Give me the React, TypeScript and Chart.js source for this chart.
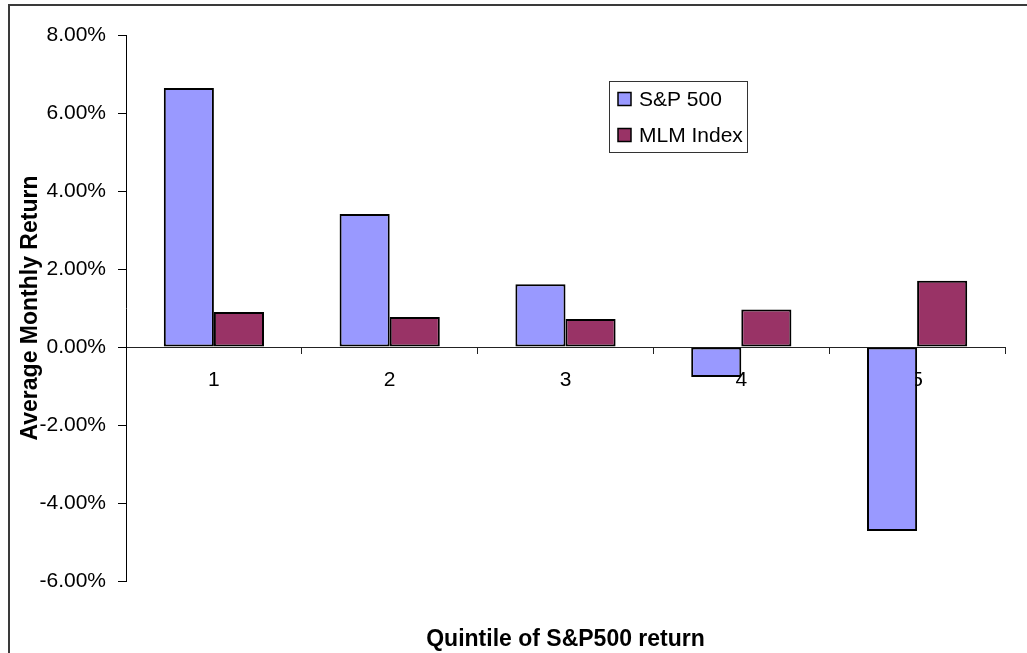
import React, { useEffect, useRef } from "react";
import { Chart, registerables } from "chart.js";

Chart.register(...registerables);

const categories = ["1", "2", "3", "4", "5"];
const sp500Values = [6.64, 3.41, 1.61, -0.77, -4.72];
const mlmValues = [0.9, 0.77, 0.72, 0.96, 1.7];
const seriesNames = ["S&P 500", "MLM Index"];
const yTickMin = -6;
const yTickMax = 8;
const yTickStep = 2;
const xTitle = "Quintile of S&P500 return";
const yTitle = "Average Monthly Return";

const FONT = "'Liberation Sans', Arial, sans-serif";
const BLUE = "#9999FF";
const RED = "#993366";

const decorPlugin = {
  id: "decor",
  beforeDraw(chart: any) {
    const ctx = chart.ctx;
    ctx.save();
    ctx.fillStyle = "#ffffff";
    ctx.fillRect(0, 0, chart.width, chart.height);
    ctx.strokeStyle = "#3a3a3a";
    ctx.lineWidth = 2;
    ctx.strokeRect(9, 5, 3000, 3000);
    ctx.restore();
  },
  afterDraw(chart: any) {
    const ctx = chart.ctx;
    const area = chart.chartArea;
    ctx.save();
    ctx.fillStyle = "#000";
    ctx.font = `bold 23px ${FONT}`;
    ctx.textAlign = "center";
    ctx.textBaseline = "middle";
    ctx.fillText(xTitle, (area.left + area.right) / 2, 640);
    const lx = 609.5, ly = 81.5, lw = 138, lh = 71;
    ctx.fillStyle = "#fff";
    ctx.fillRect(lx, ly, lw, lh);
    ctx.strokeStyle = "#333";
    ctx.lineWidth = 1;
    ctx.strokeRect(lx, ly, lw, lh);
    const colors = [BLUE, RED];
    const rows = [99, 135];
    ctx.font = `21px ${FONT}`;
    ctx.textAlign = "left";
    for (let i = 0; i < seriesNames.length; i++) {
      const cy = rows[i];
      ctx.fillStyle = colors[i];
      ctx.fillRect(618, cy - 6.5, 13, 13);
      ctx.strokeStyle = "#000";
      ctx.lineWidth = 1.5;
      ctx.strokeRect(618, cy - 6.5, 13, 13);
      ctx.fillStyle = "#000";
      ctx.fillText(seriesNames[i], 639, cy + 1);
    }
    ctx.restore();
  },
};

export default function App() {
  const ref = useRef<HTMLCanvasElement | null>(null);
  useEffect(() => {
    if (!ref.current) return;
    const chart = new Chart(ref.current, {
      type: "bar",
      data: {
        labels: categories,
        datasets: [
          {
            label: seriesNames[0],
            data: sp500Values,
            backgroundColor: BLUE,
            borderColor: "#000",
            borderWidth: 2,
            borderSkipped: false,
            categoryPercentage: 0.57,
            barPercentage: 1,
          },
          {
            label: seriesNames[1],
            data: mlmValues,
            backgroundColor: RED,
            borderColor: "#000",
            borderWidth: 2,
            borderSkipped: false,
            categoryPercentage: 0.57,
            barPercentage: 1,
          },
        ],
      },
      options: {
        animation: false,
        responsive: false,
        maintainAspectRatio: false,
        devicePixelRatio: 1,
        layout: { padding: { left: 0, top: 35, right: 22, bottom: 72 } },
        plugins: {
          legend: { display: false },
          title: { display: false },
          tooltip: { enabled: false },
        },
        scales: {
          x: {
            type: "category",
            position: { y: 0 } as any,
            offset: true,
            grid: {
              display: true,
              drawOnChartArea: false,
              drawTicks: true,
              tickLength: 6,
              offset: true,
              color: "#222",
            },
            border: { display: true, color: "#222", width: 1 },
            ticks: {
              color: "#000",
              font: { family: FONT, size: 21 },
              padding: 15,
              maxRotation: 0,
            },
          },
          y: {
            type: "linear",
            min: yTickMin,
            max: yTickMax,
            ticks: {
              stepSize: yTickStep,
              color: "#000",
              font: { family: FONT, size: 21 },
              padding: 12,
              callback: (v: any) => Number(v).toFixed(2) + "%",
            },
            grid: {
              display: true,
              drawOnChartArea: false,
              drawTicks: true,
              tickLength: 8,
              color: "#000",
            },
            border: { display: true, color: "#000", width: 1 },
            title: {
              display: true,
              text: yTitle,
              color: "#000",
              font: { family: FONT, size: 23, weight: "bold" },
              padding: { top: 17, bottom: 0 },
            },
            afterFit: (scale: any) => {
              scale.width = 126;
            },
          },
        },
      },
      plugins: [decorPlugin],
    });
    return () => chart.destroy();
  }, []);
  return (
    <div style={{ position: "absolute", left: 0, top: 0, width: 1027, height: 653, overflow: "hidden" }}>
      <canvas ref={ref} width={1027} height={653} style={{ display: "block" }} />
    </div>
  );
}
